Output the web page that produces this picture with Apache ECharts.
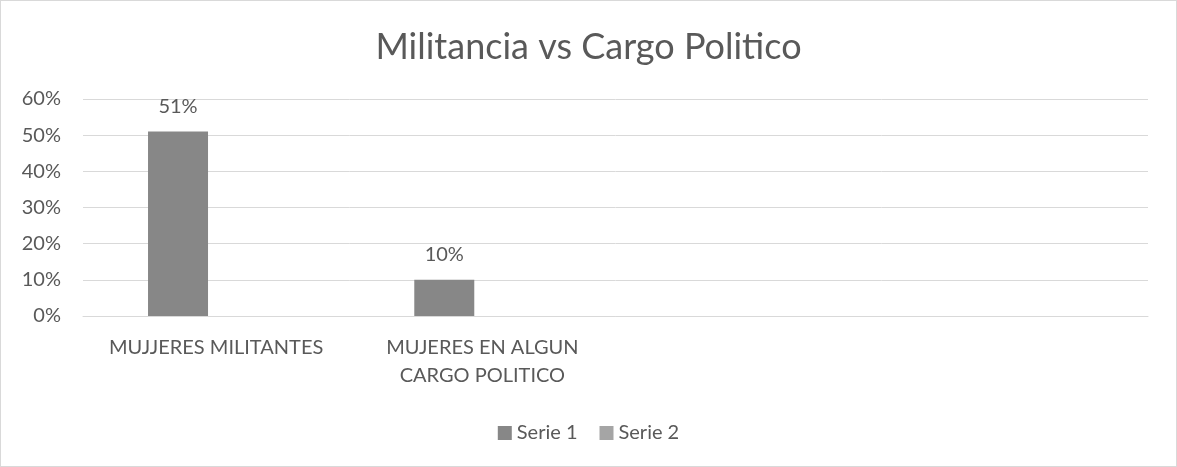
<!DOCTYPE html>
<html>
<head>
<meta charset="utf-8">
<script src="https://cdn.jsdelivr.net/npm/echarts@6/dist/echarts.min.js"></script>
<style>
  html, body { margin: 0; padding: 0; background: #fff; }
  #chart { width: 1175px; height: 465px; border: 1px solid #d9d9d9; }
</style>
</head>
<body>
<div id="chart"></div>
<script>
// datos
var categorias = ['MUJJERES MILITANTES', 'MUJERES EN ALGUN\nCARGO POLITICO', '', ''];
var serie1 = [0.51, 0.10, null, null];
var serie2 = [null, null, null, null];
var ticksY = [0, 0.1, 0.2, 0.3, 0.4, 0.5, 0.6];

var gris = '#595959';
var fuente = 'Lato, "Open Sans", sans-serif';

var chart = echarts.init(document.getElementById('chart'));

var option = {
    animation: false,
    textStyle: { fontFamily: fuente },
    title: {
        text: 'Militancia vs Cargo Politico',
        left: 'center',
        top: 23,
        textStyle: { fontSize: 36, fontWeight: 'normal', color: gris, fontFamily: fuente }
    },
    legend: {
        bottom: 18,
        left: 'center',
        icon: 'rect',
        itemWidth: 14,
        itemHeight: 14,
        itemGap: 22,
        textStyle: { fontSize: 20, color: gris, fontFamily: fuente },
        data: ['Serie 1', 'Serie 2']
    },
    grid: { left: 82, right: 28, top: 98, bottom: 150 },
    xAxis: {
        type: 'category',
        data: categorias,
        axisLine: { lineStyle: { color: '#d9d9d9', width: 1 } },
        axisTick: { show: false },
        axisLabel: { color: gris, fontSize: 20, margin: 18, lineHeight: 28, fontFamily: fuente, interval: 0 }
    },
    yAxis: {
        type: 'value',
        min: ticksY[0],
        max: ticksY[ticksY.length - 1],
        interval: 0.1,
        axisLine: { show: false },
        axisTick: { show: false },
        splitLine: { lineStyle: { color: '#d9d9d9', width: 1 } },
        axisLabel: {
            color: gris, fontSize: 20, margin: 22, fontFamily: fuente,
            formatter: function (v) { return Math.round(v * 100) + '%'; }
        }
    },
    series: [
        {
            name: 'Serie 1',
            type: 'bar',
            data: serie1,
            barWidth: 60,
            barGap: '27%',
            itemStyle: { color: '#878787' },
            label: {
                show: true,
                position: 'top',
                distance: 15,
                color: gris,
                fontSize: 20,
                fontFamily: fuente,
                formatter: function (p) { return Math.round(p.value * 100) + '%'; }
            }
        },
        {
            name: 'Serie 2',
            type: 'bar',
            data: serie2,
            barWidth: 60,
            itemStyle: { color: '#a5a5a5' }
        }
    ]
};

chart.setOption(option);
</script>
</body>
</html>
